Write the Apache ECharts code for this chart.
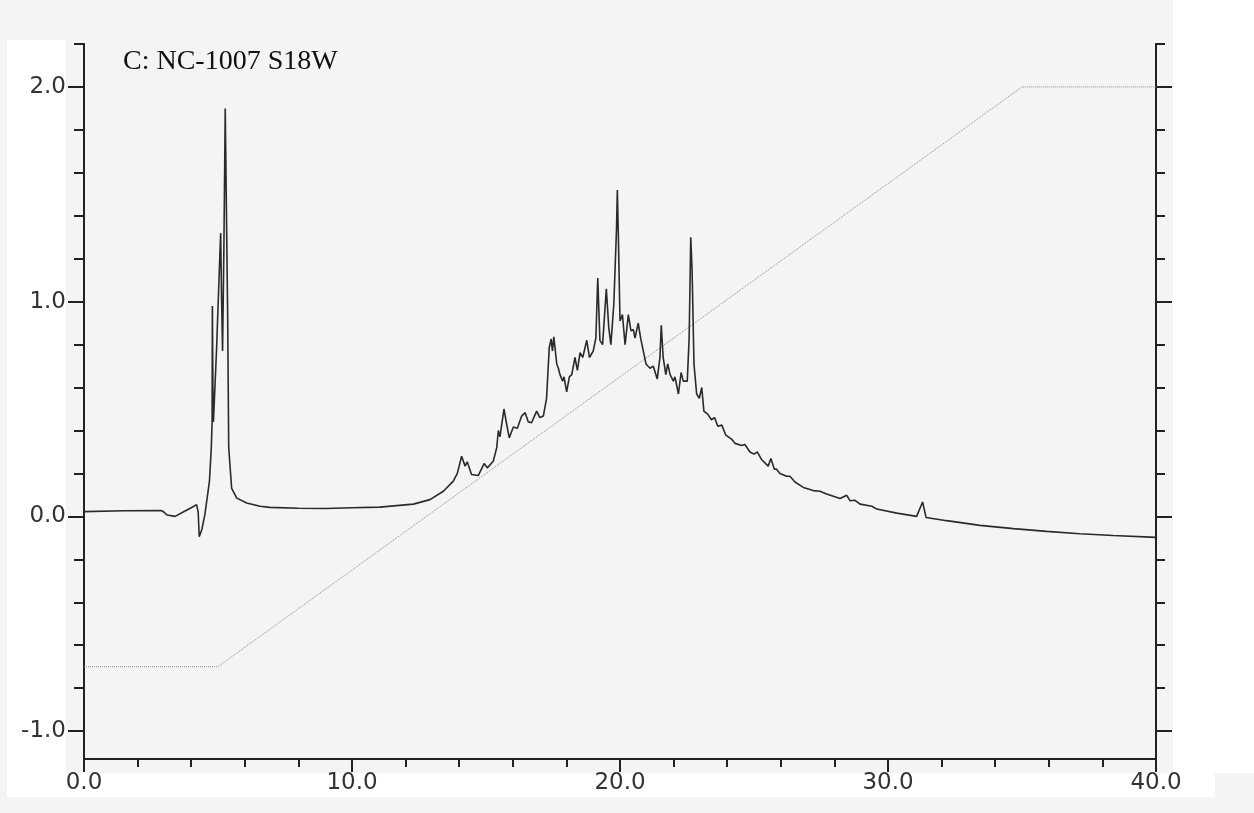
<!DOCTYPE html>
<html>
<head>
<meta charset="utf-8">
<script src="https://cdn.jsdelivr.net/npm/echarts@6/dist/echarts.min.js"></script>
<style>
  html, body { margin: 0; padding: 0; background: #f4f4f4; }
  #chart { width: 1254px; height: 813px; }
</style>
</head>
<body>
<div id="chart"></div>
<script>
// ---- Data ----
const titleText = 'C: NC-1007 S18W';

// Chromatogram trace: time (min) and signal
const traceTime = [
  0.0, 1.5, 2.9, 3.0, 3.1, 3.4, 3.77, 4.0, 4.2, 4.26, 4.30, 4.40, 4.51, 4.68, 4.75, 4.78, 4.79, 4.81, 4.83, 4.95,
  5.07, 5.10, 5.13, 5.17, 5.22, 5.27, 5.32, 5.36, 5.40, 5.51, 5.70, 6.07, 6.57, 6.94, 8.0, 9.0, 10.0, 11.04, 12.29, 12.91,
  13.41, 13.78, 13.93, 14.09, 14.22, 14.30, 14.46, 14.71, 14.93, 15.05, 15.27, 15.40, 15.46, 15.52, 15.67, 15.77, 15.87, 16.02, 16.17, 16.33,
  16.46, 16.58, 16.70, 16.89, 17.01, 17.14, 17.26, 17.36, 17.43, 17.48, 17.53, 17.64, 17.70, 17.76, 17.86, 17.91, 18.01, 18.11, 18.20, 18.32,
  18.41, 18.51, 18.61, 18.76, 18.86, 19.0, 19.10, 19.17, 19.25, 19.35, 19.49, 19.58, 19.66, 19.77, 19.87, 19.90, 19.94, 20.0, 20.09, 20.19,
  20.31, 20.41, 20.50, 20.56, 20.68, 20.77, 20.87, 20.97, 21.12, 21.24, 21.39, 21.49, 21.54, 21.61, 21.71, 21.78, 21.87, 21.99, 22.05, 22.18,
  22.28, 22.36, 22.51, 22.58, 22.64, 22.69, 22.76, 22.86, 22.96, 23.05, 23.13, 23.28, 23.41, 23.53, 23.65, 23.80, 23.94, 24.16, 24.29, 24.54,
  24.66, 24.85, 25.0, 25.12, 25.28, 25.53, 25.63, 25.76, 25.84, 25.97, 26.22, 26.34, 26.53, 26.84, 27.21, 27.46, 27.71, 28.21, 28.46, 28.58,
  28.77, 28.96, 29.40, 29.58, 30.33, 31.07, 31.29, 31.42, 32.19, 33.43, 34.68, 35.92, 37.16, 38.40, 40.0
];
const traceValue = [
  0.022, 0.026, 0.027, 0.018, 0.006, 0.0, 0.025, 0.040, 0.055, 0.02, -0.095, -0.06, 0.008, 0.163, 0.32, 0.44, 0.98, 0.60, 0.44, 0.79,
  1.22, 1.32, 1.04, 0.77, 1.25, 1.90, 1.90, 0.94, 0.32, 0.13, 0.085, 0.062, 0.047, 0.042, 0.038, 0.037, 0.040, 0.043, 0.057, 0.078,
  0.117, 0.164, 0.20, 0.28, 0.234, 0.254, 0.195, 0.19, 0.246, 0.226, 0.257, 0.32, 0.40, 0.37, 0.50, 0.43, 0.366, 0.416, 0.41, 0.467,
  0.483, 0.44, 0.436, 0.49, 0.46, 0.467, 0.55, 0.786, 0.826, 0.77, 0.836, 0.71, 0.69, 0.66, 0.63, 0.65, 0.58, 0.65, 0.66, 0.74,
  0.68, 0.763, 0.74, 0.82, 0.74, 0.77, 0.83, 1.11, 0.82, 0.80, 1.06, 0.88, 0.80, 0.99, 1.34, 1.52, 1.30, 0.91, 0.94, 0.80,
  0.94, 0.864, 0.87, 0.83, 0.90, 0.83, 0.77, 0.71, 0.69, 0.70, 0.64, 0.74, 0.89, 0.74, 0.66, 0.71, 0.66, 0.63, 0.65, 0.57,
  0.67, 0.63, 0.63, 0.83, 1.30, 1.145, 0.71, 0.57, 0.55, 0.60, 0.49, 0.475, 0.45, 0.46, 0.42, 0.425, 0.38, 0.36, 0.34, 0.33,
  0.335, 0.30, 0.29, 0.30, 0.265, 0.234, 0.27, 0.22, 0.22, 0.20, 0.187, 0.187, 0.16, 0.135, 0.12, 0.117, 0.104, 0.083, 0.098, 0.073,
  0.075, 0.057, 0.047, 0.034, 0.015, 0.0, 0.067, -0.005, -0.02, -0.042, -0.057, -0.07, -0.081, -0.089, -0.098
];

// Gradient program (dotted line)
const gradientTime = [0, 5, 35, 40];
const gradientValue = [-0.7, -0.7, 2.0, 2.0];

// Axis ticks / labels
const xMajorTicks = [0, 10, 20, 30, 40];
const yMinorTicks = [-1.0, -0.8, -0.6, -0.4, -0.2, 0.0, 0.2, 0.4, 0.6, 0.8, 1.0, 1.2, 1.4, 1.6, 1.8, 2.0, 2.2];
const yMajorTicks = [-1.0, 0.0, 1.0, 2.0];
const xRange = [0, 40];
const yRange = [-1.13, 2.2];

// ---- Chart ----
const chart = echarts.init(document.getElementById('chart'), null, { renderer: 'canvas' });

const axisColor = '#222';
const labelStyle = { color: '#333', fontSize: 23, fontFamily: 'DejaVu Sans' };

function pairs(xs, ys) { return xs.map((x, i) => [x, ys[i]]); }

function yAxisDef(position, tickLen, ticks, labels) {
  return {
    type: 'value', position: position, min: yRange[0], max: yRange[1],
    axisLine: { show: true, onZero: false, lineStyle: { color: axisColor, width: 2 } },
    axisTick: { show: true, inside: false, length: tickLen, customValues: ticks, lineStyle: { color: axisColor, width: 2 } },
    axisLabel: labels ? Object.assign({ show: true, margin: 18, customValues: labels, formatter: v => v.toFixed(1) }, labelStyle) : { show: false },
    splitLine: { show: false }
  };
}

const option = {
  animation: false,
  backgroundColor: '#f4f4f4',
  graphic: [
    { type: 'rect', z: -10, silent: true, shape: { x: 7, y: 40, width: 59, height: 733 }, style: { fill: '#ffffff' } },
    { type: 'rect', z: -10, silent: true, shape: { x: 7, y: 773, width: 1208, height: 24 }, style: { fill: '#ffffff' } },
    { type: 'rect', z: -10, silent: true, shape: { x: 1173, y: 0, width: 81, height: 773 }, style: { fill: '#ffffff' } }
  ],
  title: {
    text: titleText, left: 118, top: 43,
    textStyle: { fontFamily: 'Liberation Serif', fontWeight: 'normal', fontSize: 28, color: '#111' }
  },
  grid: { left: 84, right: 98, top: 44, bottom: 54, containLabel: false },
  xAxis: [
    {
      type: 'value', position: 'bottom', min: xRange[0], max: xRange[1], interval: 2,
      axisLine: { show: true, onZero: false, lineStyle: { color: axisColor, width: 2 } },
      axisTick: { show: true, length: 8, lineStyle: { color: axisColor, width: 2 } },
      axisLabel: { show: false }, splitLine: { show: false }
    },
    {
      type: 'value', position: 'bottom', min: xRange[0], max: xRange[1],
      axisLine: { show: true, onZero: false, lineStyle: { color: axisColor, width: 2 } },
      axisTick: { show: true, length: 13, customValues: xMajorTicks, lineStyle: { color: axisColor, width: 2 } },
      axisLabel: Object.assign({ show: true, margin: 13, customValues: xMajorTicks, formatter: v => v.toFixed(1) }, labelStyle),
      splitLine: { show: false }
    }
  ],
  yAxis: [
    yAxisDef('left', 10, yMinorTicks, null),
    yAxisDef('left', 16, yMajorTicks, yMajorTicks),
    yAxisDef('right', 9, yMinorTicks, null),
    yAxisDef('right', 16, yMajorTicks, null)
  ],
  series: [
    {
      type: 'line', name: 'gradient', xAxisIndex: 0, yAxisIndex: 0,
      data: pairs(gradientTime, gradientValue), showSymbol: false, silent: true,
      lineStyle: { color: '#8a8a8a', width: 1, type: 'dotted' }, z: 1
    },
    {
      type: 'line', name: 'signal', xAxisIndex: 0, yAxisIndex: 0,
      data: pairs(traceTime, traceValue), showSymbol: false, silent: true,
      lineStyle: { color: '#2a2a2a', width: 1.6 }, z: 2
    }
  ]
};
chart.setOption(option);
</script>
</body>
</html>
